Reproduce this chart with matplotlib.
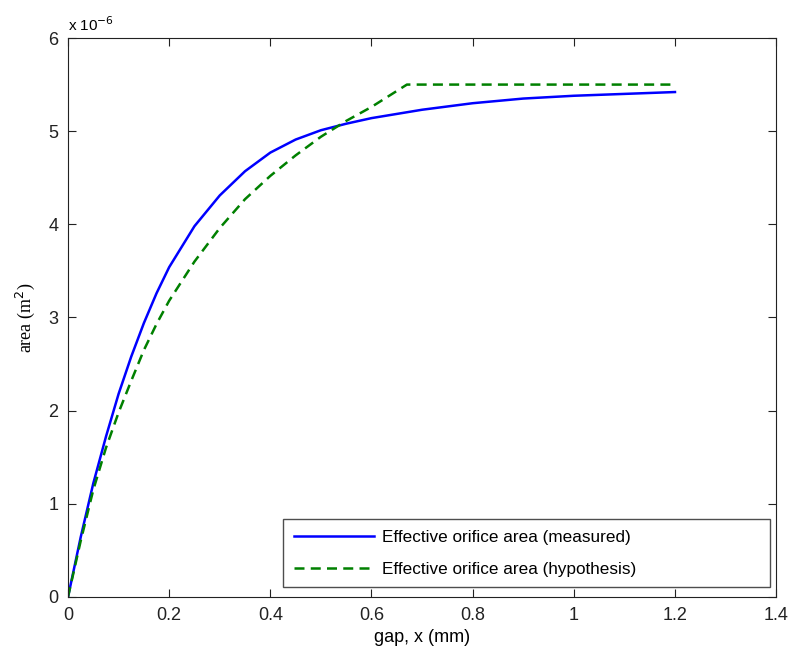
import matplotlib.pyplot as plt

# gap in mm, area in units of 1e-6 m^2
gap_meas = [0, 0.025, 0.05, 0.075, 0.1, 0.125, 0.15, 0.175, 0.2, 0.25, 0.3, 0.35,
            0.4, 0.45, 0.5, 0.55, 0.6, 0.7, 0.8, 0.9, 1.0, 1.1, 1.2]
area_meas = [0, 0.64, 1.22, 1.72, 2.18, 2.58, 2.94, 3.26, 3.54, 3.98, 4.31, 4.57,
             4.77, 4.91, 5.01, 5.08, 5.14, 5.23, 5.3, 5.35, 5.38, 5.4, 5.42]

gap_hyp = [0, 0.025, 0.05, 0.075, 0.1, 0.125, 0.15, 0.175, 0.2, 0.25, 0.3, 0.35,
           0.4, 0.45, 0.5, 0.55, 0.6, 0.67, 1.2]
area_hyp = [0, 0.6, 1.15, 1.6, 1.98, 2.32, 2.65, 2.93, 3.18, 3.6, 3.96, 4.27,
            4.52, 4.74, 4.94, 5.11, 5.26, 5.5, 5.5]

plt.rcParams['font.family'] = ['Liberation Sans', 'DejaVu Sans']

fig = plt.figure(figsize=(7.89, 6.53), dpi=100)
ax = fig.add_axes([0.0862, 0.0858, 0.8975, 0.856])

ax.plot(gap_meas, area_meas, color='#0000ff', lw=1.8,
        label='Effective orifice area (measured)')
ax.plot(gap_hyp, area_hyp, color='#008000', lw=1.8, ls=(0, (4, 2.5)),
        label='Effective orifice area (hypothesis)')

ax.set_xlim(0, 1.4)
ax.set_ylim(0, 6)
ax.set_xticks([0, 0.2, 0.4, 0.6, 0.8, 1, 1.2, 1.4])
ax.set_xticklabels(['0', '0.2', '0.4', '0.6', '0.8', '1', '1.2', '1.4'])
ax.set_yticks(range(7))
ax.tick_params(direction='in', top=True, right=True, length=6, labelsize=13,
               colors='#222222', pad=7)
for s in ax.spines.values():
    s.set_color('#222222')

ax.set_xlabel('gap, x (mm)', fontsize=13, labelpad=4)
ax.set_ylabel('area (m$^2$)', fontsize=13, family='Liberation Serif', labelpad=8)
ax.text(0.0, 1.008, r'x 10$^{-6}$', transform=ax.transAxes, fontsize=11,
        ha='left', va='bottom')

leg = ax.legend(loc='lower left', bbox_to_anchor=(0.304, 0.018, 0.688, 0.12),
                mode='expand', fontsize=12.3, handlelength=4.7, handletextpad=0.5,
                frameon=True, fancybox=False, borderpad=0.6, labelspacing=1.0,
                borderaxespad=0)
leg.get_frame().set_edgecolor('#222222')
leg.get_frame().set_linewidth(1.0)

fig.savefig('out.png', dpi=100)
